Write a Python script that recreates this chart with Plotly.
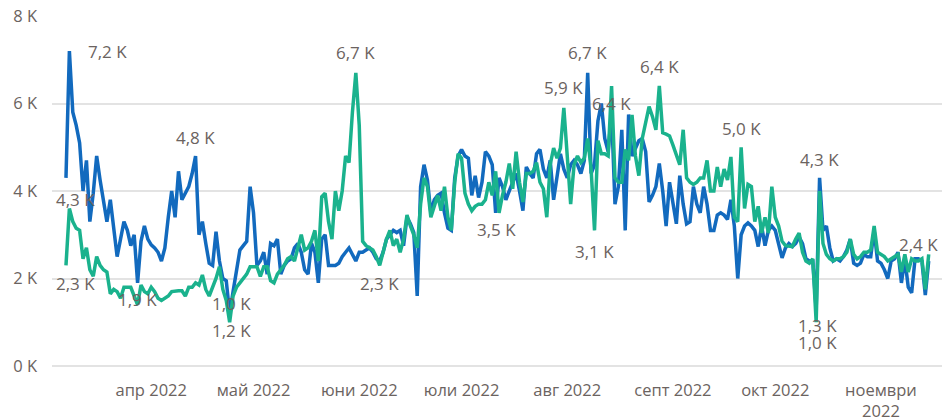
import pandas as pd
import plotly.graph_objects as go

# ---------------- data ----------------
start_date = "2022-03-07"
blue_values = [
    4.3, 7.2, 5.8, 5.5, 5.1, 4.0, 4.7, 3.3, 3.95, 4.8,
    4.25, 3.8, 3.3, 3.8, 3.1, 2.5, 2.9, 3.3, 3.1, 2.75,
    3.0, 1.9, 2.85, 3.2, 2.9, 2.77, 2.7, 2.6, 2.4, 2.7,
    3.4, 4.0, 3.4, 4.45, 3.8, 3.95, 4.1, 4.4, 4.8, 3.0,
    3.3, 2.8, 2.35, 2.3, 3.07, 2.4, 2.0, 1.95, 1.2, 1.7,
    2.2, 2.65, 2.75, 2.85, 4.1, 3.5, 2.3, 2.4, 2.6, 2.1,
    2.8, 2.75, 2.9, 2.1, 2.3, 2.4,
    2.45, 2.7, 2.8, 2.6, 2.2, 2.1, 2.8, 2.6, 1.9, 2.9,
    3.0, 2.3, 2.3, 2.3, 2.35, 2.5, 2.6, 2.7, 2.55, 2.4,
    2.6, 2.6, 2.65, 2.7, 2.6, 2.45, 2.4, 2.6, 2.9, 3.0,
    3.1, 3.05, 3.1, 2.75, 3.4, 3.25, 3.05, 1.6, 4.1, 4.6,
    4.25, 3.5, 3.8, 3.9, 3.95, 3.5, 3.15, 3.1, 4.3, 4.8,
    4.95, 4.8, 4.75, 3.9, 4.35, 3.85, 4.2, 4.9,
    4.8, 4.6, 3.5, 4.3, 4.1, 3.8, 4.0, 4.25, 4.4, 4.0,
    3.55, 4.55, 4.4, 4.3, 4.85, 4.95, 4.5, 4.3, 4.7, 3.8,
    4.4, 4.85, 4.5, 4.3, 4.6, 4.7, 4.6, 4.4, 4.7, 6.7,
    4.4, 4.6, 5.6, 6.0, 5.2, 4.9, 5.8, 3.7, 4.1, 5.4,
    3.1, 5.75, 4.8, 5.0, 5.15, 5.2, 4.9, 3.75, 3.9, 4.1,
    4.63, 4.0, 3.2, 4.2, 3.7, 3.25, 4.35, 3.7, 3.25, 3.3,
    4.1, 3.7, 3.5, 4.1, 3.7, 3.1, 3.1, 3.45, 3.5, 3.45,
    3.35, 3.8, 3.2, 2.0, 3.0, 3.2, 3.27, 3.2, 3.1, 2.73,
    3.2, 2.75, 3.1, 3.2, 3.1, 2.8, 2.47, 2.7, 2.8, 2.73,
    2.8, 2.95,
    2.8, 2.45, 2.4, 2.4, 1.3, 4.3, 3.1, 3.2, 2.7, 2.4,
    2.45, 2.4, 2.5, 2.65, 2.9, 2.35, 2.3, 2.35, 2.55, 2.5,
    2.5, 3.1, 2.4, 2.35, 2.2, 2.0, 2.4, 2.45, 2.6, 1.9,
    2.45, 1.8, 1.67, 2.45, 2.45, 2.4, 1.62, 2.4,
]
green_values = [
    2.3, 3.6, 3.3, 3.15, 3.1, 2.45, 2.7, 2.2, 2.05, 2.5,
    2.3, 2.2, 2.15, 1.65, 1.75, 1.7, 1.55, 1.8, 1.8, 1.8,
    1.6, 1.4, 1.85, 1.7, 1.65, 1.8, 1.7, 1.55, 1.5, 1.55,
    1.6, 1.7, 1.72, 1.72, 1.72, 1.6, 1.8, 1.8, 1.9, 1.85,
    2.08, 1.75, 1.6, 1.8, 2.0, 2.27, 1.75, 1.5, 1.0, 1.6,
    1.8, 1.9, 2.0, 2.1, 2.27, 2.27, 2.27, 2.05, 2.27, 2.27,
    1.95, 1.9, 2.1, 2.2, 2.3, 2.45,
    2.5, 2.4, 2.7, 3.0, 2.65, 2.7, 2.85, 3.1, 2.4, 3.87,
    3.95, 3.3, 2.9, 4.0, 3.55, 4.0, 4.8, 4.65, 5.8, 6.7,
    5.5, 2.85, 2.75, 2.7, 2.65, 2.5, 2.3, 2.6, 2.9, 3.1,
    2.75, 2.9, 2.6, 2.9, 3.45, 3.2, 3.0, 2.7, 3.7, 4.3,
    4.1, 3.4, 3.65, 3.9, 3.55, 4.1, 3.4, 3.1, 4.2, 4.85,
    4.75, 3.95, 3.7, 3.55, 3.65, 3.7, 3.7, 3.8,
    4.2, 3.9, 4.45, 3.5, 3.9, 4.2, 4.63, 4.05, 4.9, 4.2,
    3.75, 4.4, 4.4, 4.45, 4.65, 4.2, 4.05, 3.4, 4.6, 4.98,
    4.75, 4.98, 5.9, 4.8, 3.7, 4.6, 4.8, 4.65, 4.75, 5.2,
    4.5, 3.1, 5.15, 4.85, 4.85, 4.8, 6.4, 4.3, 4.2, 4.2,
    4.95, 4.7, 5.74, 4.8, 4.35, 5.2, 5.6, 5.93, 5.7, 5.4,
    6.4, 5.33, 5.3, 5.26, 5.05, 4.8, 4.6, 5.4, 4.3, 4.2,
    4.15, 4.2, 4.3, 4.3, 4.7, 4.0, 4.0, 4.55, 4.1, 4.5,
    4.25, 4.78, 3.4, 3.3, 5.0, 3.6, 4.15, 4.1, 3.3, 3.65,
    3.04, 3.4, 3.04, 4.1, 3.4, 3.2, 2.85, 2.75, 2.73, 2.73,
    2.9, 3.04,
    2.6, 2.4, 2.35, 2.45, 1.0, 4.0, 2.8, 2.55, 2.45, 2.4,
    2.45, 2.45, 2.5, 2.6, 2.9, 2.55, 2.45, 2.5, 2.6, 2.6,
    2.65, 3.2, 2.6, 2.55, 2.5, 2.4, 2.45, 2.5, 2.55, 2.15,
    2.55, 2.15, 2.45, 2.4, 2.4, 2.45, 1.75, 2.55,
]
assert len(blue_values) == len(green_values) == 254, (len(blue_values), len(green_values))

month_ticks = ["2022-04-01", "2022-05-01", "2022-06-01", "2022-07-01",
               "2022-08-01", "2022-09-01", "2022-10-01", "2022-11-01"]
month_labels = ["апр 2022", "май 2022", "юни 2022", "юли 2022",
                "авг 2022", "септ 2022", "окт 2022", "ноември<br>2022"]
y_ticks = [0, 2, 4, 6, 8]
y_labels = ["0 K", "2 K", "4 K", "6 K", "8 K"]

# labelled points: (series, day index)
label_points = [
    ("blue", 1), ("blue", 0), ("green", 0), ("blue", 21), ("blue", 38),
    ("green", 48), ("blue", 48), ("green", 85), ("green", 92), ("green", 127),
    ("green", 146), ("blue", 153), ("green", 155), ("green", 160), ("green", 174),
    ("green", 198), ("blue", 221), ("blue", 220), ("green", 220), ("blue", 253),
]
# label offsets in px (layout only)
label_shifts = [
    (38, 0), (10, -22), (10, -18), (0, -17), (0, 19),
    (2, 19), (2, -17), (0, 20), (0, -18), (-3, -17),
    (0, 20), (0, 20), (0, -21), (0, -17), (0, 20),
    (0, 19), (0, 18), (1, -16), (1, -20), (-10, 17),
]

# ---------------- figure ----------------
dates = pd.date_range(start_date, periods=len(blue_values), freq="D")
series = {"blue": blue_values, "green": green_values}
colors = {"blue": "#126ABE", "green": "#1AB28D"}
FONT = "Open Sans"
FS = 16.5

fig = go.Figure()
for name in ["blue", "green"]:
    fig.add_trace(go.Scatter(
        x=dates, y=series[name], mode="lines",
        line=dict(color=colors[name], width=3.5, shape="linear"),
        hoverinfo="skip", showlegend=False,
    ))

label_color = "#6B6360"
for (name, idx), (dx, dy) in zip(label_points, label_shifts):
    v = series[name][idx]
    txt = f"{v:.1f}".replace(".", ",") + " K"
    fig.add_annotation(
        x=dates[idx], y=v, xref="x", yref="y", text=txt, showarrow=False,
        xshift=dx, yshift=dy, xanchor="center", yanchor="middle",
        font=dict(size=FS + 0.5, color=label_color, family=FONT),
    )

x0 = pd.Timestamp(start_date)
fig.update_xaxes(
    type="date",
    range=[x0 - pd.Timedelta(days=4.1), x0 + pd.Timedelta(days=256.9)],
    tickvals=month_ticks, ticktext=month_labels,
    showgrid=False, zeroline=False, showline=False, ticks="",
    tickfont=dict(size=FS, color=label_color, family=FONT),
    ticklabelstandoff=12, automargin=False,
)
fig.update_yaxes(
    range=[0, 8], tickvals=y_ticks, ticktext=y_labels,
    showgrid=True, gridcolor="#E3E3E3", gridwidth=1.5,
    zeroline=True, zerolinecolor="#E3E3E3", zerolinewidth=1.5,
    showline=False, ticks="",
    tickfont=dict(size=FS, color=label_color, family=FONT),
    ticklabelstandoff=14, automargin=False,
)
fig.update_layout(
    width=942, height=419,
    margin=dict(l=52, r=0, t=16, b=53, autoexpand=False),
    plot_bgcolor="white", paper_bgcolor="white",
    showlegend=False,
    font=dict(family=FONT, color=label_color),
)
fig.write_html(
    "out.html",
    config={"displayModeBar": False},
    post_script="document.body.style.margin='0px';document.body.style.overflow='hidden';",
)
